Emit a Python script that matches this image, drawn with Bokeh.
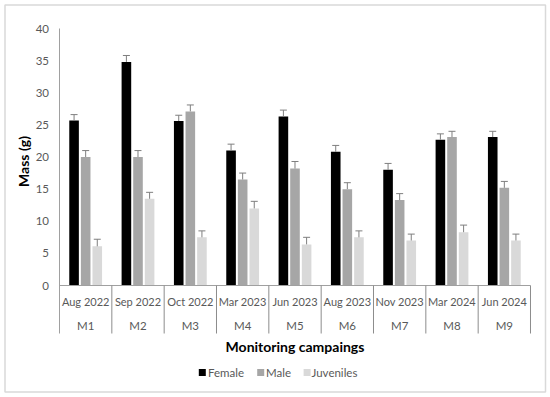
import numpy as np
from bokeh.plotting import figure
from bokeh.models import Range1d
from bokeh.core.properties import value
from bokeh.embed import file_html
from bokeh.resources import INLINE

# ---------------- data ----------------
campaigns = ["M1", "M2", "M3", "M4", "M5", "M6", "M7", "M8", "M9"]
dates = ["Aug 2022", "Sep 2022", "Oct 2022", "Mar 2023", "Jun 2023",
         "Aug 2023", "Nov 2023", "Mar 2024", "Jun 2024"]
female = [25.7, 34.8, 25.6, 21.0, 26.3, 20.8, 18.0, 22.7, 23.1]
male = [20.0, 20.0, 27.1, 16.5, 18.2, 15.0, 13.3, 23.1, 15.2]
juveniles = [6.1, 13.5, 7.5, 12.0, 6.4, 7.5, 7.0, 8.3, 7.0]
female_err = [0.9, 1.0, 0.9, 1.0, 1.0, 1.0, 1.0, 0.9, 0.9]
male_err = [1.0, 1.0, 1.0, 1.0, 1.1, 1.0, 1.0, 0.9, 1.0]
juveniles_err = [1.1, 1.0, 1.0, 1.1, 1.1, 1.0, 1.0, 1.1, 1.0]
series_names = ["Female", "Male", "Juveniles"]
series_colors = ["#000000", "#a6a6a6", "#d9d9d9"]
y_ticks = [0, 5, 10, 15, 20, 25, 30, 35, 40]

# ---------------- layout (pixels) ----------------
W, H = 550, 397
X0_PX, GROUP_PX = 59.0, 52.333      # y-axis position and category width
Y0_PX, UNIT_PX = 285.0, 6.425       # zero line and px per gram

def dx(px):
    return (px - X0_PX) / GROUP_PX

def dy(py):
    return (Y0_PX - py) / UNIT_PX

FONT = "Lato"
TXT = "#595959"
AX = "#a0a0a0"
SEP = "#8c8c8c"

p = figure(width=W, height=H, output_backend="svg", toolbar_location=None,
           x_axis_location=None, y_axis_location=None,
           x_range=Range1d(dx(0), dx(W)),
           y_range=Range1d(dy(H), dy(0)),
           min_border=0, min_border_left=0, min_border_right=0,
           min_border_top=0, min_border_bottom=0)
p.outline_line_color = None
p.background_fill_color = "white"
p.border_fill_color = "white"
p.xgrid.visible = False
p.ygrid.visible = False
p.grid.grid_line_color = None

# outer chart border
p.quad(left=[dx(4.5)], right=[dx(545)], top=[dy(4.5)], bottom=[dy(391.5)],
       fill_color=None, line_color="#d9d9d9", line_width=1.5)

n = len(campaigns)
centers = np.arange(n) + 0.5
offset = 11.6 / GROUP_PX
bar_w = 9.6 / GROUP_PX
cap_w = 7.0 / GROUP_PX

for k, (vals, errs, col) in enumerate(zip([female, male, juveniles],
                                          [female_err, male_err, juveniles_err],
                                          series_colors)):
    xs = centers + (k - 1) * offset
    vals = np.array(vals)
    errs = np.array(errs)
    p.vbar(x=xs, top=vals, bottom=0, width=bar_w, fill_color=col, line_color=None)
    p.segment(x0=xs, y0=vals, x1=xs, y1=vals + errs, line_color="#7f7f7f", line_width=1)
    p.segment(x0=xs - cap_w / 2, y0=vals + errs, x1=xs + cap_w / 2, y1=vals + errs,
              line_color="#7f7f7f", line_width=1)

# axes lines
bottom_v = dy(333)
p.segment(x0=[0], y0=[y_ticks[-1]], x1=[0], y1=[bottom_v], line_color=AX, line_width=1)
p.segment(x0=[0], y0=[0], x1=[n], y1=[0], line_color=AX, line_width=1)
seps = np.arange(1, n + 1)
p.segment(x0=seps, y0=np.zeros(n), x1=seps, y1=np.full(n, bottom_v), line_color=SEP, line_width=1)

# y tick labels
p.text(x=np.full(len(y_ticks), dx(48.5)), y=y_ticks, text=[str(t) for t in y_ticks],
       text_align="right", text_baseline="middle", text_font=value(FONT),
       text_font_size="11.5px", text_color=TXT)

# category labels
p.text(x=centers, y=np.full(n, dy(301)), text=dates, text_align="center",
       text_baseline="middle", text_font=value(FONT), text_font_size="11px", text_color=TXT)
p.text(x=centers, y=np.full(n, dy(325)), text=campaigns, text_align="center",
       text_baseline="middle", text_font=value(FONT), text_font_size="11.5px", text_color=TXT)

# axis titles
p.text(x=[n / 2], y=[dy(346)], text=["Monitoring campaings"], text_align="center",
       text_baseline="middle", text_font=value(FONT), text_font_size="14px",
       text_font_style="bold", text_color="#000000")
p.text(x=[dx(22.5)], y=[dy(161)], text=["Mass (g)"], angle=np.pi / 2, text_align="center",
       text_baseline="middle", text_font=value(FONT), text_font_size="14px",
       text_font_style="bold", text_color="#000000")

# legend
leg_sq_x = [dx(201.8), dx(260.2), dx(306.6)]
leg_tx_x = [dx(207.5), dx(265.5), dx(311.0)]
leg_y = dy(372)
p.scatter(x=leg_sq_x, y=[leg_y] * 3, marker="square", size=7,
          fill_color=series_colors, line_color=None)
p.text(x=leg_tx_x, y=[leg_y] * 3, text=series_names, text_align="left",
       text_baseline="middle", text_font=value(FONT), text_font_size="11.5px", text_color=TXT)

open("out.html", "w").write(file_html(p, INLINE))
